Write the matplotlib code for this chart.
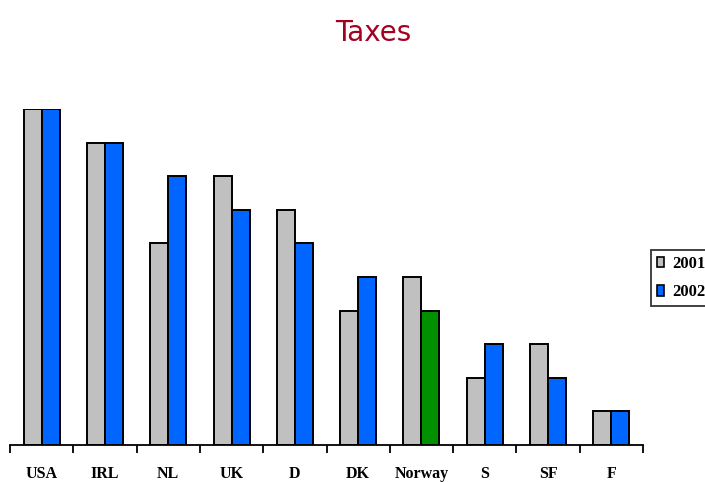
"""Taxes ranking chart, 2001 vs 2002."""

import matplotlib.pyplot as plt
import numpy as np

countries = ["USA", "IRL", "NL", "UK", "D", "DK", "Norway", "S", "SF", "F"]
rank_2001 = [10, 9, 6, 8, 7, 4, 5, 2, 3, 1]
rank_2002 = [10, 9, 8, 7, 6, 5, 4, 3, 2, 1]
years = ["2001", "2002"]

GRAY = "#C0C0C0"
BLUE = "#0066FF"
GREEN = "#009000"
TITLE_RED = "#A50021"

W, H = 705, 482
fig = plt.figure(figsize=(W / 100, H / 100), dpi=100)
ax = fig.add_axes([10 / W, (H - 445) / H, (643 - 10) / W, (445 - 109) / H])

x = np.arange(len(countries))
bw = 0.285
colors_2002 = [GREEN if c == "Norway" else BLUE for c in countries]

ax.bar(x - bw / 2, rank_2001, bw, color=GRAY, edgecolor="black", linewidth=1.4, label=years[0])
ax.bar(x + bw / 2, rank_2002, bw, color=colors_2002, edgecolor="black", linewidth=1.4, label=years[1])

ax.set_xlim(-0.5, len(countries) - 0.5)
ax.set_ylim(0, 10)

for side in ["left", "right", "top"]:
    ax.spines[side].set_visible(False)
ax.spines["bottom"].set_linewidth(1.3)
ax.set_yticks([])

# ticks between groups, labels at group centres
ax.set_xticks(np.arange(len(countries) + 1) - 0.5)
ax.set_xticklabels([])
ax.tick_params(axis="x", direction="out", length=6, width=1.3)
for i, name in enumerate(countries):
    ax.text(i, -0.86, name, ha="center", va="center", fontsize=11.5,
            fontweight="bold", family="Liberation Serif")

fig.text(373 / W, 1 - 33 / H, "Taxes", ha="center", va="center",
         fontsize=20, color=TITLE_RED, family="DejaVu Sans")

# legend with a small patch next to each year
handles = [plt.Rectangle((0, 0), 1, 1, facecolor=GRAY, edgecolor="black", linewidth=1.2),
           plt.Rectangle((0, 0), 1, 1, facecolor=BLUE, edgecolor="black", linewidth=1.2)]
leg = fig.legend(handles, years, loc="upper left", bbox_to_anchor=(651 / W, 1 - 250 / H),
                 prop={"family": "Liberation Serif", "weight": "bold", "size": 12},
                 frameon=True, fancybox=False, handlelength=0.45, handleheight=0.6,
                 handletextpad=0.5, borderpad=0.35, labelspacing=0.75, borderaxespad=0)
leg.get_frame().set_edgecolor("black")
leg.get_frame().set_linewidth(1.3)

fig.savefig("out.png", dpi=100)
